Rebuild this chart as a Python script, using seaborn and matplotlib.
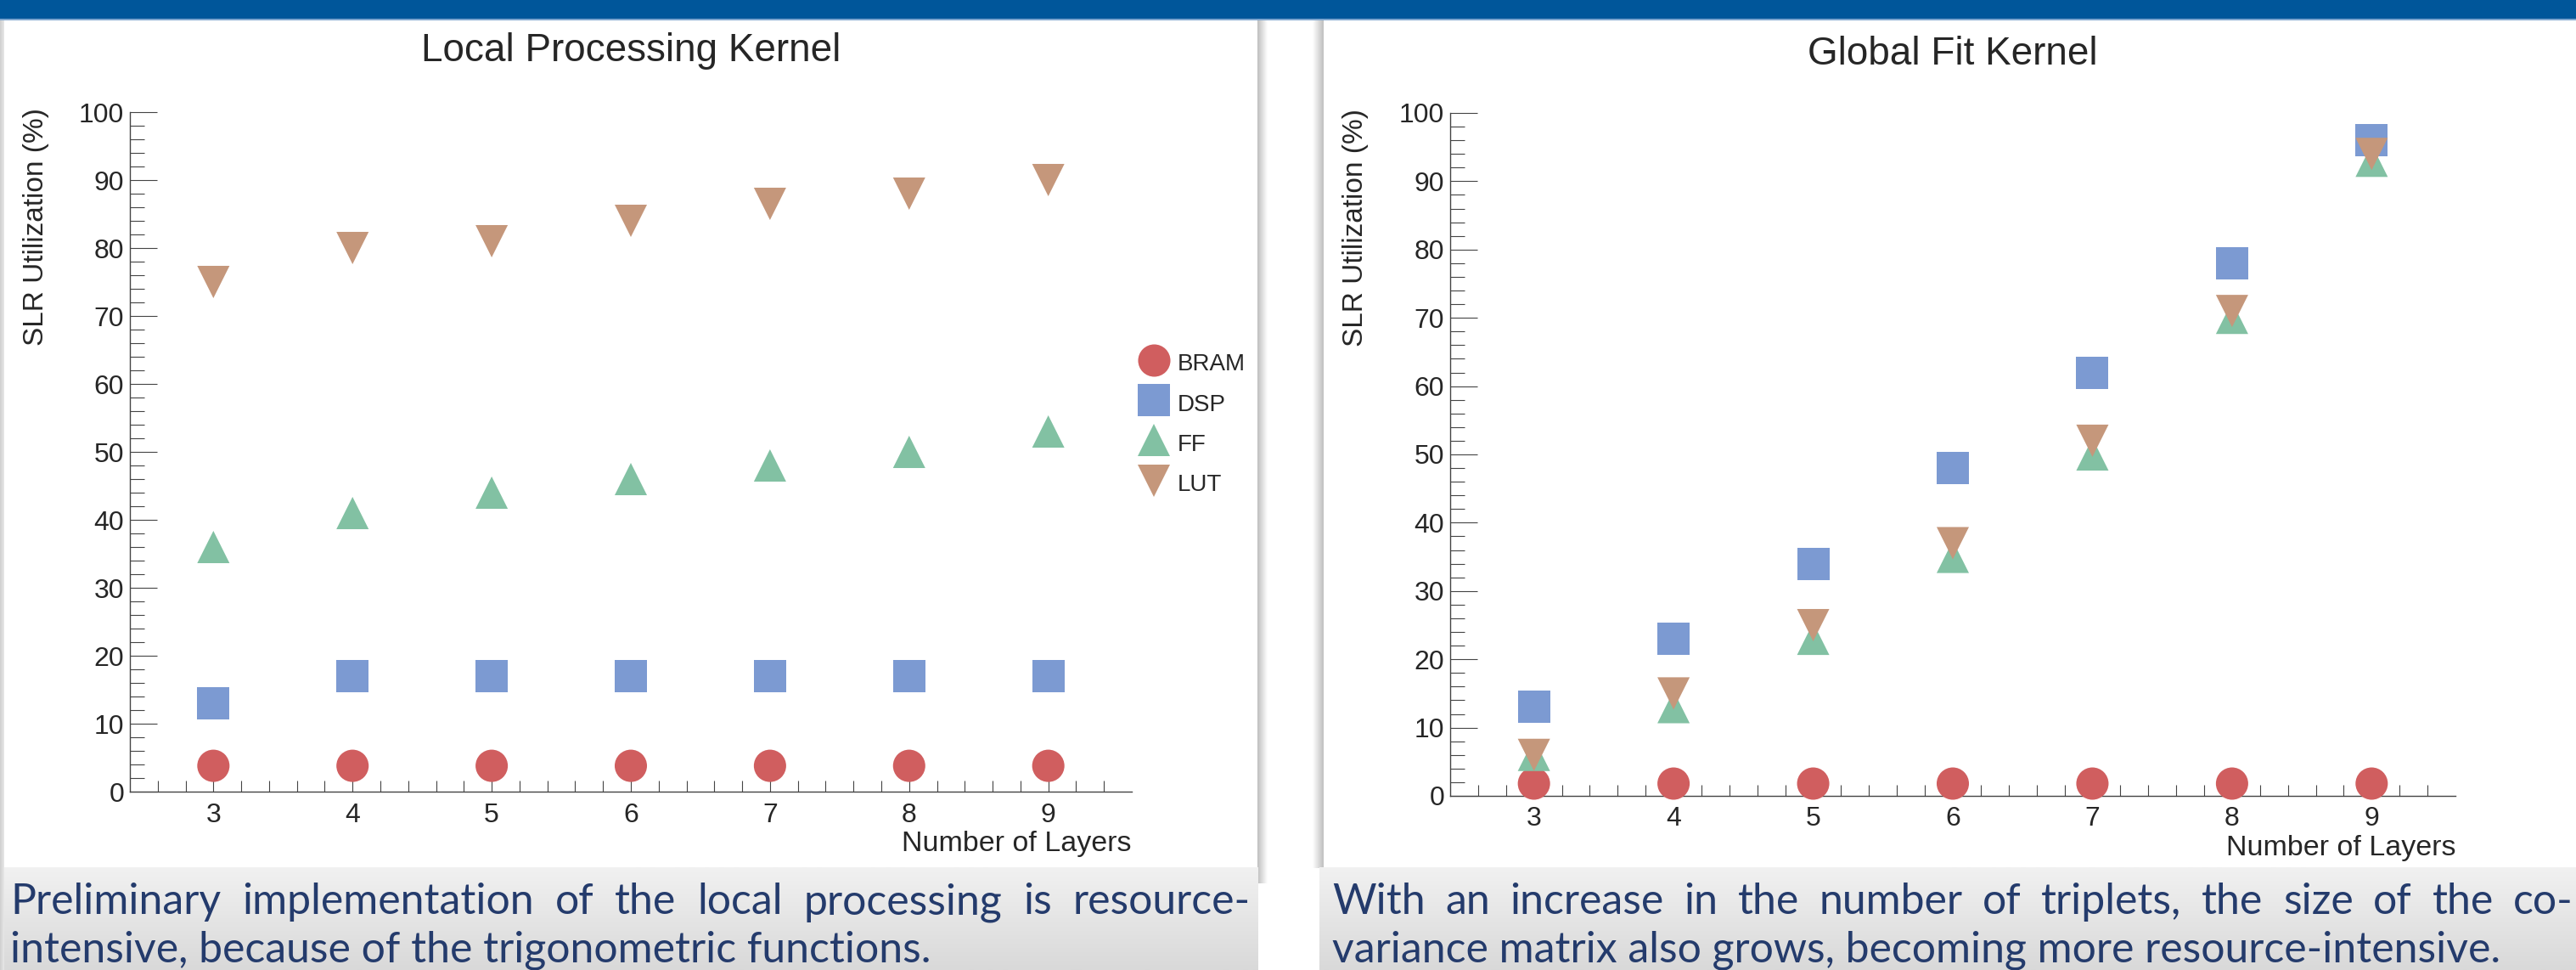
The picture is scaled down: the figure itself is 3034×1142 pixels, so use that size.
import numpy as np
import pandas as pd
import matplotlib
matplotlib.use('Agg')
import matplotlib.pyplot as plt
from matplotlib.lines import Line2D
from matplotlib.patches import Rectangle
from matplotlib.colors import LinearSegmentedColormap
from matplotlib.ticker import FixedLocator, MultipleLocator
import seaborn as sns

# data
layers = [3, 4, 5, 6, 7, 8, 9]
resources = ['BRAM', 'DSP', 'FF', 'LUT']

# Local Processing Kernel
local_bram = [3.8, 3.8, 3.8, 3.8, 3.8, 3.8, 3.8]
local_dsp = [13, 17, 17, 17, 17, 17, 17]
local_ff = [36, 41, 44, 46, 48, 50, 53]
local_lut = [75, 80, 81, 84, 86.5, 88, 90]

# Global Fit Kernel
global_bram = [1.8, 1.8, 1.8, 1.8, 1.8, 1.8, 1.8]
global_dsp = [13, 23, 34, 48, 62, 78, 96]
global_ff = [6, 13, 23, 35, 50, 70, 93]
global_lut = [6, 15, 25, 37, 52, 71, 94]

titles = ['Local Processing Kernel', 'Global Fit Kernel']
ylabel = 'SLR Utilization (%)'
xlabel = 'Number of Layers'
captions = [
    ['Preliminary implementation of the local processing is resource-',
     'intensive, because of the trigonometric functions.'],
    ['With an increase in the number of triplets, the size of the co-',
     'variance matrix also grows, becoming more resource-intensive.'],
]

palette = {'BRAM': '#D05E5F', 'DSP': '#7C9AD2', 'FF': '#82C1A3', 'LUT': '#C5977B'}
markers = {'BRAM': 'o', 'DSP': 's', 'FF': '^', 'LUT': 'v'}
cap_color = '#243B6C'

sns.set_theme(style='ticks')
plt.rcParams['font.family'] = ['Liberation Sans', 'DejaVu Sans']


def to_long(bram, dsp, ff, lut):
    return pd.DataFrame({
        'layers': layers * 4,
        'util': bram + dsp + ff + lut,
        'resource': np.repeat(resources, len(layers)),
    })


W, H = 3034, 1142
fig = plt.figure(figsize=(W / 100, H / 100), dpi=100, facecolor='white')

# slide background (pixel coordinates)
bg = fig.add_axes([0, 0, 1, 1], zorder=-10)
bg.axis('off')


def grad(x0, x1, y0, y1, c0, c1, vertical=False):
    g = np.linspace(0, 1, 64)
    g = g[:, None] if vertical else g[None, :]
    cmap = LinearSegmentedColormap.from_list('g', [c0, c1])
    bg.imshow(g, cmap=cmap, extent=[x0, x1, y1, y0], aspect='auto',
              interpolation='bilinear', origin='upper')


bg.add_patch(Rectangle((0, 0), W, 22, color='#00569A', lw=0))
bg.add_patch(Rectangle((0, 22), W, 1.5, color='#7FA6CF', lw=0))
grad(0, 5, 23, H, '#CFCFCF', '#E8E8E8')
grad(1481, 1493, 23, 1040, '#BFBFBF', '#FFFFFF')
grad(1546, 1559, 23, 1022, '#FFFFFF', '#BFBFBF')
grad(5, 1482, 1021, H, '#F1F1F1', '#D9D9D9', vertical=True)
grad(1554, W, 1021, H, '#F1F1F1', '#D9D9D9', vertical=True)
bg.set_xlim(0, W)
bg.set_ylim(H, 0)

ax1 = fig.add_axes([153 / W, 1 - 932 / H, 1180 / W, 800 / H])
ax2 = fig.add_axes([1708 / W, 1 - 937 / H, 1184 / W, 804 / H])

frames = [to_long(local_bram, local_dsp, local_ff, local_lut),
          to_long(global_bram, global_dsp, global_ff, global_lut)]

for ax, df, title, tx, ty in zip((ax1, ax2), frames, titles, (743, 2300), (72, 76)):
    sns.scatterplot(data=df, x='layers', y='util', hue='resource', style='resource',
                    palette=palette, markers=markers, s=750, linewidth=0,
                    legend=False, ax=ax, clip_on=False, zorder=3)
    ax.set_xlim(2.4, 9.6)
    ax.set_ylim(0, 100)
    ax.patch.set_alpha(0)
    ax.spines[['top', 'right']].set_visible(False)
    for sp in ('left', 'bottom'):
        ax.spines[sp].set_color('#444444')
        ax.spines[sp].set_linewidth(1.0)
    ax.xaxis.set_major_locator(FixedLocator(layers))
    ax.xaxis.set_minor_locator(FixedLocator(np.round(np.arange(26, 95, 2) / 10, 1)))
    ax.yaxis.set_major_locator(MultipleLocator(10))
    ax.yaxis.set_minor_locator(MultipleLocator(2))
    ax.tick_params(axis='x', which='both', direction='in', length=9.5, width=0.8,
                   color='#444444', labelsize=23, pad=9, bottom=True)
    ax.tick_params(axis='y', which='major', direction='in', length=23, width=0.8,
                   color='#444444', labelsize=23, pad=5, left=True)
    ax.tick_params(axis='y', which='minor', direction='in', length=12, width=0.8,
                   color='#444444', left=True)
    ax.set_xlabel('')
    ax.set_ylabel('')
    ax.text(-0.094, 1.006, ylabel, rotation=90, ha='center', va='top',
            fontsize=24, transform=ax.transAxes)
    ax.text(1.0, -70 / 800, xlabel, ha='right', va='baseline', fontsize=24.5,
            transform=ax.transAxes)
    fig.text(tx / W, 1 - ty / H, title, ha='center', va='baseline', fontsize=33)

handles = [Line2D([], [], marker=markers[r], color=palette[r], linestyle='',
                  markersize=27.4, markeredgewidth=0) for r in resources]
ax1.legend(handles, resources, loc='upper left', bbox_to_anchor=(1339.5 / W, 1 - 412 / H),
           bbox_transform=fig.transFigure, frameon=False, fontsize=20,
           handlelength=1.4, handleheight=1.3, handletextpad=0.3, labelspacing=0.6,
           borderpad=0, borderaxespad=0)

# captions in the grey boxes
renderer = fig.canvas.get_renderer()
cap_font = ['Lato', 'DejaVu Sans']
targets = [(12, 1092), (1569, 2946)]
sizes = []
for cap, (a, b) in zip(captions, targets):
    t = fig.text(0, 0, cap[1], fontsize=30, family=cap_font)
    sizes.append(30 * (b - a) / t.get_window_extent(renderer).width)
    t.remove()
cap_size = float(np.mean(sizes))

for cap, x0, x1 in zip(captions, (12, 1569), (1473, 3031)):
    words = cap[0].split()
    texts = [fig.text(0, 1 - 1076 / H, w, fontsize=cap_size, family=cap_font,
                      color=cap_color, va='baseline') for w in words]
    widths = [t.get_window_extent(renderer).width for t in texts]
    gap = (x1 - x0 - sum(widths)) / (len(words) - 1)
    x = x0
    for t, w in zip(texts, widths):
        t.set_x(x / W)
        x += w + gap
    fig.text(x0 / W, 1 - 1132 / H, cap[1], fontsize=cap_size, family=cap_font,
             color=cap_color, va='baseline')

fig.savefig('out.png', dpi=100)
